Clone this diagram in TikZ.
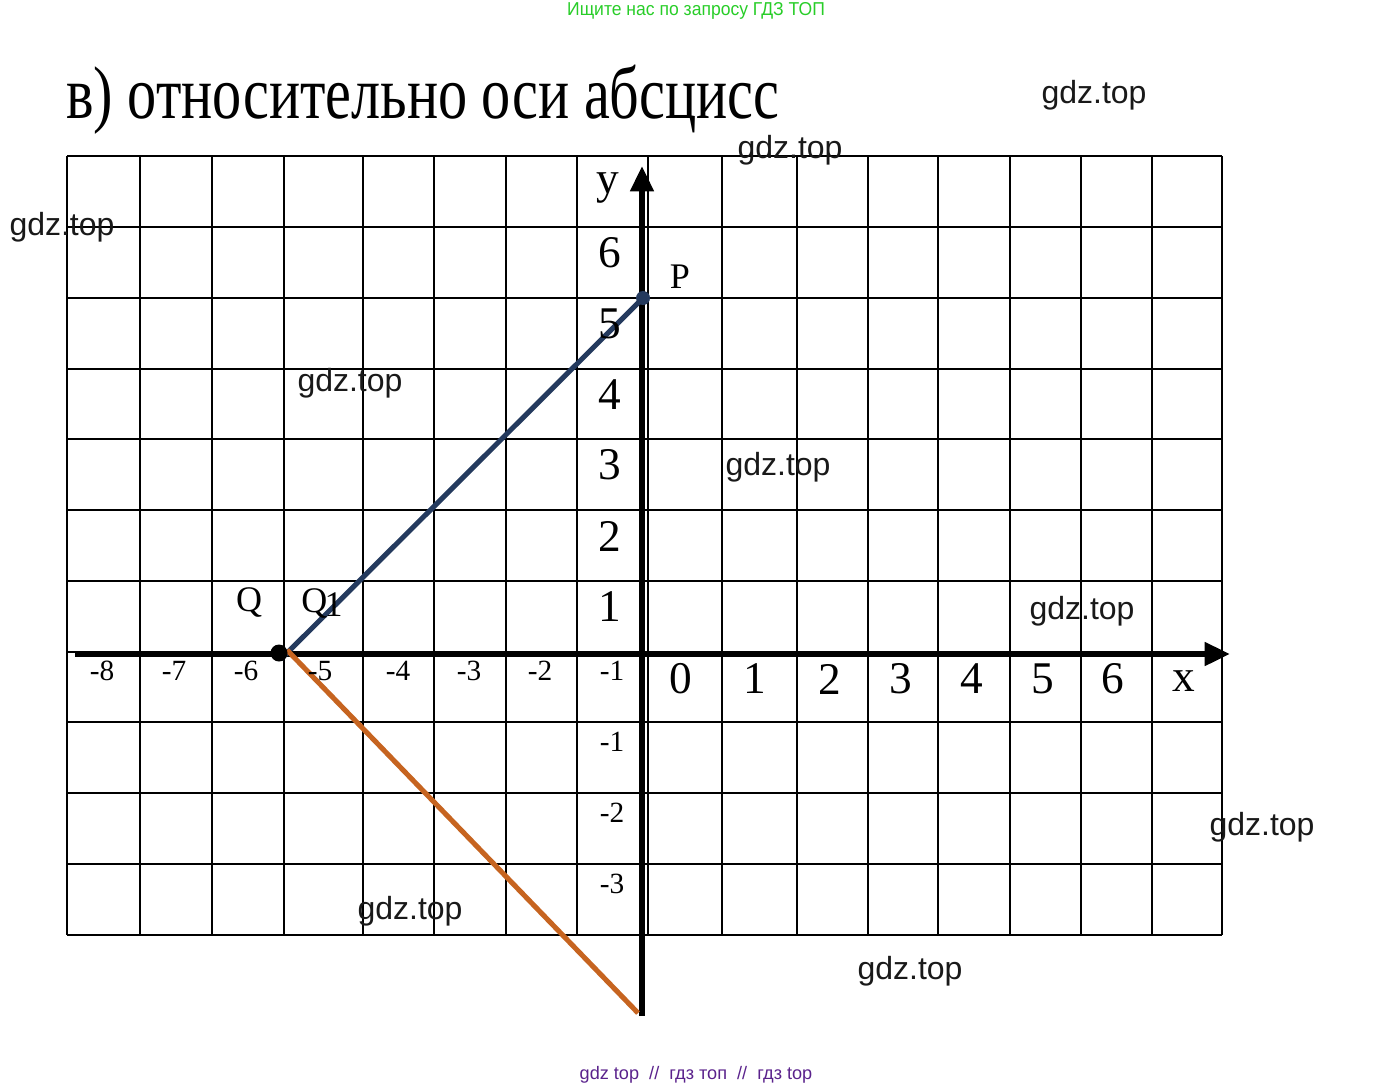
\documentclass[tikz,border=0pt]{standalone}
\usepackage{fontspec}
\setmainfont{Liberation Serif}
\newfontfamily\wmfont{Liberation Sans}
\usetikzlibrary{arrows.meta}
\definecolor{segblue}{RGB}{36,58,94}
\definecolor{segorange}{RGB}{198,100,32}
\definecolor{wmgreen}{RGB}{40,205,40}
\definecolor{wmpurple}{RGB}{90,34,140}
\tikzset{
  grid line/.style={line width=1.5pt},
  axis line/.style={line width=4.3pt,-{Triangle[length=19pt,width=17pt]}},
  big num/.style={inner sep=0pt,font=\fontsize{34}{34}\selectfont},
  small num/.style={inner sep=0pt,font=\fontsize{22}{22}\selectfont},
  pt lab/.style={inner sep=0pt,font=\fontsize{27}{27}\selectfont},
  wm/.style={inner sep=0pt,text=black!90,font=\wmfont\fontsize{24}{24}\selectfont}
}
\begin{document}
\begin{tikzpicture}[x=0.75pt,y=0.75pt,yscale=-1,xscale=1]
\useasboundingbox (0,0) rectangle (1395,1090);

% Grid
\foreach \gx in {67,140,212,284,363,434,506,577,648,722,797,868,938,1010,1081,1152,1222}
  \draw[grid line] (\gx,156) -- (\gx,935);
\foreach \gy in {156,227,298,369,439,510,581,652,722,793,864,935}
  \draw[grid line] (67,\gy) -- (1222,\gy);

% Axes
\coordinate (xs) at (75,654);
\coordinate (xe) at (1230,654);
\coordinate (ys) at (642,1016);
\coordinate (ye) at (642,166);
\draw[axis line] (xs) -- (xe);
\draw[axis line] (ys) -- (ye);

% Points
\coordinate (P) at (643,298);
\coordinate (Q) at (279,653);
\coordinate (Qb) at (281,659);
\coordinate (Qo) at (287,650);
\coordinate (P1) at (638,1013);

% Segments
\draw[segblue,line width=3.8pt] (P) -- (Qb);
\draw[segorange,line width=3.8pt] (Qo) -- (P1);
\fill[segblue] (P) circle (7);
\fill[black] (Q) circle (8.5);

% Text Node
\node[anchor=base west,inner sep=0pt,xscale=0.78,font=\fontsize{56}{56}\selectfont] (title) at (66,118) {в) относительно оси абсцисс};

% axis labels
\foreach \v/\px [count=\i] in {-8/102,-7/174,-6/246,-5/320,-4/398,-3/469,-2/540,-1/612}
  \node[small num] (nx\i) at (\px,671) {\v};
\foreach \v/\px [count=\i] in {0/681,1/755,2/830,3/901,4/972,5/1043,6/1113}
  \node[big num] (px\i) at (\px,679) {\v};
\foreach \v/\py [count=\i] in {6/253,5/324,4/395,3/465,2/536,1/607}
  \node[big num] (py\i) at (610,\py) {\v};
\foreach \v/\py [count=\i] in {-1/742,-2/813,-3/884}
  \node[small num] (ny\i) at (612,\py) {\v};
\node[big num] (xlab) at (1184,681) {x};
\node[big num] (ylab) at (608,188) {y};

% point labels
\node[pt lab] (Plab) at (680,277) {P};
\node[pt lab] (Qlab) at (249,602) {Q};
\node[pt lab] (Q1lab) at (322,603) {Q\kern-2pt\raisebox{-3pt}{1}};

% watermarks
\node[wm] (w1) at (1094,95) {gdz.top};
\node[wm] (w2) at (790,150) {gdz.top};
\node[wm] (w3) at (62,227) {gdz.top};
\node[wm] (w4) at (350,383) {gdz.top};
\node[wm] (w5) at (778,467) {gdz.top};
\node[wm] (w6) at (1082,611) {gdz.top};
\node[wm] (w7) at (1262,827) {gdz.top};
\node[wm] (w8) at (410,911) {gdz.top};
\node[wm] (w9) at (910,971) {gdz.top};
\node[inner sep=0pt,text=wmgreen,xscale=0.94,font=\wmfont\fontsize{14}{14}\selectfont] (top) at (696,11) {Ищите нас по запросу ГДЗ ТОП};
\node[inner sep=0pt,text=wmpurple,font=\wmfont\fontsize{13.6}{13.6}\selectfont] (bot) at (696,1075) {gdz top \ // \ гдз топ \ // \ гдз top};

\end{tikzpicture}
\end{document}
